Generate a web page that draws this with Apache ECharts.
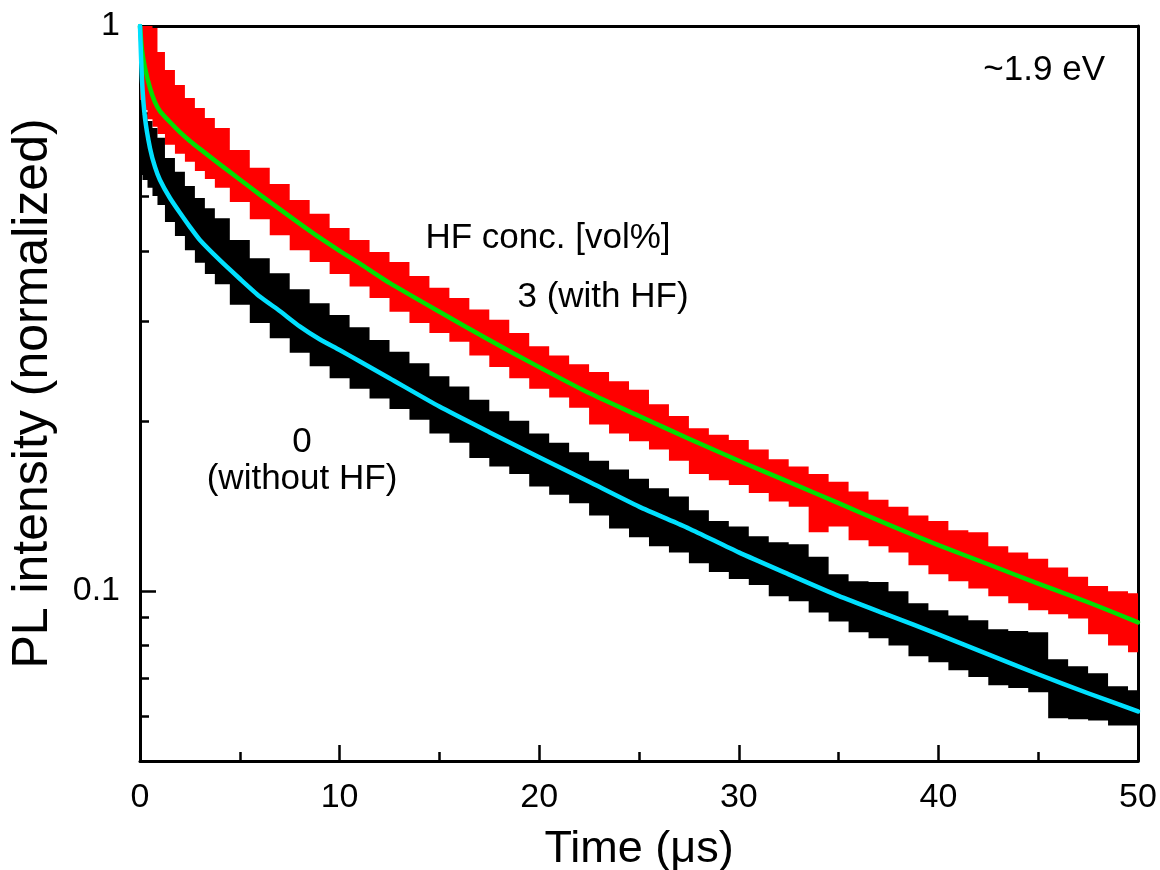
<!DOCTYPE html>
<html>
<head>
<meta charset="utf-8">
<script src="https://cdn.jsdelivr.net/npm/echarts@6/dist/echarts.min.js"></script>
<style>
html,body{margin:0;padding:0;background:#ffffff;}
#chart{width:1160px;height:870px;}
</style>
</head>
<body>
<div id="chart"></div>
<script>
// ---- data ----
// smooth fit curves
const fitTime = [0,0.1,0.25,0.5,0.75,1,1.5,2,2.5,3,4,5,6,7,8,9,10,11,12.5,15,17.5,20,22.5,25,27.5,30,32.5,35,37.5,40,42.5,45,47.5,50];
const fitWithHF = [1.000,0.907,0.843,0.777,0.733,0.707,0.676,0.649,0.626,0.606,0.569,0.535,0.503,0.474,0.447,0.422,0.400,0.380,0.351,0.312,0.278,0.249,0.224,0.204,0.186,0.170,0.156,0.143,0.131,0.1205,0.1115,0.103,0.0955,0.088];
const fitWithoutHF = [1.000,0.802,0.687,0.608,0.563,0.534,0.496,0.467,0.441,0.418,0.385,0.357,0.332,0.313,0.294,0.279,0.267,0.255,0.238,0.212,0.191,0.1725,0.156,0.141,0.129,0.117,0.107,0.098,0.0906,0.0838,0.0772,0.0712,0.0659,0.0612];

// measured data envelopes (noisy decay bands)
const bandTime = [0,0.25,0.5,0.75,1,1.5,2,2.5,3,3.5,4,5,6,7,8,9,10,11,12,13,14,15,16,17,18,19,20,21,22,23,24,25,26,27,28,29,30,31,32,33,34,35,36,37,38,39,40,41,42,43,44,45,46,47,48,49,50];
const withHFUpper = [1.000,1.000,1.000,0.992,0.899,0.836,0.786,0.746,0.716,0.687,0.660,
  0.603,0.561,0.525,0.492,0.465,0.439,0.418,0.398,0.382,0.361,
  0.344,0.330,0.315,0.302,0.286,0.271,0.261,0.252,0.244,0.235,
  0.227,0.214,0.204,0.194,0.189,0.185,0.178,0.171,0.166,0.161,
  0.156,0.150,0.145,0.141,0.136,0.133,0.128,0.127,0.120,0.117,
  0.114,0.110,0.106,0.102,0.0999,0.0991];
const withHFLower = [0.740,0.710,0.684,0.663,0.644,0.616,0.594,0.575,0.554,0.536,0.517,
  0.488,0.455,0.426,0.401,0.382,0.364,0.346,0.330,0.312,0.298,
  0.286,0.276,0.261,0.249,0.238,0.228,0.220,0.211,0.197,0.190,
  0.184,0.178,0.170,0.161,0.157,0.154,0.149,0.144,0.141,0.127,
  0.130,0.123,0.120,0.117,0.111,0.107,0.104,0.101,0.0979,0.0951,
  0.0924,0.0909,0.0894,0.0838,0.0801,0.0779];
const withoutHFUpper = [0.710,0.696,0.679,0.660,0.634,0.584,0.552,0.521,0.496,0.476,0.457,
  0.418,0.388,0.365,0.342,0.323,0.308,0.293,0.278,0.265,0.253,
  0.240,0.230,0.218,0.208,0.200,0.190,0.183,0.176,0.170,0.164,
  0.158,0.152,0.147,0.139,0.133,0.130,0.125,0.122,0.121,0.115,
  0.107,0.104,0.1037,0.0999,0.0951,0.0924,0.0905,0.0887,0.0855,0.0849,
  0.0845,0.0757,0.0736,0.0715,0.0678,0.0667];
const withoutHFLower = [0.545,0.534,0.517,0.500,0.482,0.450,0.425,0.401,0.381,0.364,0.349,
  0.321,0.298,0.280,0.264,0.250,0.238,0.228,0.219,0.210,0.201,
  0.190,0.183,0.172,0.166,0.161,0.153,0.148,0.143,0.136,0.129,
  0.1245,0.120,0.117,0.112,0.108,0.105,0.1024,0.0979,0.0959,0.0916,
  0.0883,0.0845,0.0825,0.0801,0.0766,0.0748,0.0724,0.0704,0.0681,0.0673,
  0.0662,0.0595,0.0593,0.0590,0.0578,0.0578];

// axis ticks
const xMin = 0, xMax = 50, xInterval = 10;
const yMin = 0.05, yMax = 1;
const yLabelValues = [0.1, 1];
const yMajorTicks = [0.1, 1];
const yMinorTicks = [0.06,0.07,0.08,0.09,0.2,0.3,0.4,0.5,0.6,0.7,0.8,0.9];

// text
const xTitle = 'Time (\u03bcs)';
const yTitle = 'PL intensity (normalized)';
const annotations = [
  {text: '~1.9 eV', x: 1105, y: 70, align: 'right'},
  {text: 'HF conc. [vol%]', x: 548, y: 238, align: 'center'},
  {text: '3 (with HF)', x: 603, y: 297, align: 'center'},
  {text: '0', x: 302, y: 442, align: 'center'},
  {text: '(without HF)', x: 302, y: 479, align: 'center'}
];

// ---- chart ----
const FONT = '"Liberation Sans", Arial, Helvetica, sans-serif';

function bandSeries(name, upper, lower, color, z) {
  return {
    type: 'custom',
    name: name,
    clip: true,
    silent: true,
    z: z,
    data: [[0, 0.5]],
    renderItem: function (params, api) {
      const n = bandTime.length;
      const edges = [];
      for (let i = 0; i <= n; i++) {
        if (i === 0) edges.push(bandTime[0]);
        else if (i === n) edges.push(bandTime[n - 1]);
        else edges.push((bandTime[i - 1] + bandTime[i]) / 2);
      }
      const pts = [];
      for (let i = 0; i < n; i++) {
        pts.push(api.coord([edges[i], upper[i]]));
        pts.push(api.coord([edges[i + 1], upper[i]]));
      }
      for (let i = n - 1; i >= 0; i--) {
        pts.push(api.coord([edges[i + 1], lower[i]]));
        pts.push(api.coord([edges[i], lower[i]]));
      }
      return {type: 'polygon', shape: {points: pts}, style: {fill: color, stroke: null}};
    }
  };
}

function fitSeries(name, values, color) {
  return {
    type: 'line',
    name: name,
    data: fitTime.map((t, i) => [t, values[i]]),
    showSymbol: false,
    smooth: 0.2,
    clip: true,
    z: 5,
    lineStyle: {color: color, width: 4.5, cap: 'round', join: 'round'},
    itemStyle: {color: color}
  };
}

const chart = echarts.init(document.getElementById('chart'), null, {renderer: 'canvas'});
const axisLineStyle = {color: '#000', width: 3};
const tickStyle = {color: '#000', width: 2.5};

chart.setOption({
  animation: false,
  backgroundColor: '#ffffff',
  grid: {left: 140, right: 22, top: 26, bottom: 109, containLabel: false, outerBoundsMode: 'none'},
  xAxis: [
    {
      type: 'value', min: xMin, max: xMax, interval: xInterval, position: 'bottom',
      axisLine: {show: true, onZero: false, lineStyle: axisLineStyle},
      axisTick: {show: true, inside: true, length: 16, lineStyle: tickStyle},
      minorTick: {show: true, splitNumber: 2, length: 9, lineStyle: tickStyle},
      splitLine: {show: false}, minorSplitLine: {show: false},
      axisLabel: {fontSize: 34, color: '#000', fontFamily: FONT, margin: 20},
      name: xTitle, nameLocation: 'middle', nameGap: 66,
      nameTextStyle: {fontSize: 45, color: '#000', fontFamily: FONT}
    },
    {
      type: 'value', min: xMin, max: xMax, position: 'top',
      axisLine: {show: true, onZero: false, lineStyle: axisLineStyle},
      axisTick: {show: false}, axisLabel: {show: false}, splitLine: {show: false}
    }
  ],
  yAxis: [
    {
      type: 'log', logBase: 10, min: yMin, max: yMax, position: 'left',
      axisLine: {show: true, onZero: false, lineStyle: axisLineStyle},
      axisTick: {show: true, inside: true, length: 16, lineStyle: tickStyle, customValues: yMajorTicks},
      axisLabel: {fontSize: 34, color: '#000', fontFamily: FONT, margin: 20, customValues: yLabelValues},
      splitLine: {show: false},
      name: yTitle, nameLocation: 'middle', nameGap: 82,
      nameTextStyle: {fontSize: 50, color: '#000', fontFamily: FONT}
    },
    {
      type: 'log', logBase: 10, min: yMin, max: yMax, position: 'left',
      axisLine: {show: false},
      axisTick: {show: true, inside: true, length: 9, lineStyle: tickStyle, customValues: yMinorTicks},
      axisLabel: {show: false}, splitLine: {show: false}
    },
    {
      type: 'log', logBase: 10, min: yMin, max: yMax, position: 'right',
      axisLine: {show: true, onZero: false, lineStyle: axisLineStyle},
      axisTick: {show: false}, axisLabel: {show: false}, splitLine: {show: false}
    }
  ],
  series: [
    bandSeries('3 vol% data', withHFUpper, withHFLower, '#ff0000', 2),
    bandSeries('0 vol% data', withoutHFUpper, withoutHFLower, '#000000', 3),
    fitSeries('3 vol% fit', fitWithHF, '#00e000'),
    fitSeries('0 vol% fit', fitWithoutHF, '#00e0ff')
  ],
  graphic: annotations.map(a => ({
    type: 'text', x: a.x, y: a.y, silent: true, z: 10,
    style: {text: a.text, fill: '#000', fontSize: 35, fontFamily: FONT, align: a.align, verticalAlign: 'middle'}
  }))
});
</script>
</body>
</html>
